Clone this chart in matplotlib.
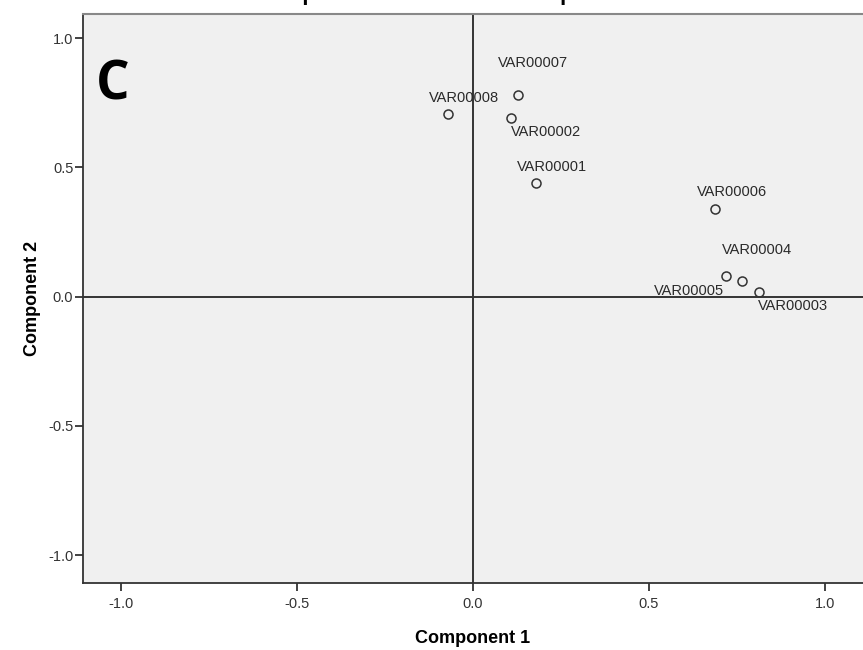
import numpy as np
import matplotlib
matplotlib.use("Agg")
import matplotlib.pyplot as plt

plt.rcParams['font.family'] = ['Liberation Sans', 'DejaVu Sans']

# component loadings
var_names = ['VAR00001', 'VAR00002', 'VAR00003', 'VAR00004',
             'VAR00005', 'VAR00006', 'VAR00007', 'VAR00008']
comp1 = [0.179, 0.108, 0.813, 0.764, 0.719, 0.688, 0.128, -0.071]
comp2 = [0.441, 0.692, 0.019, 0.062, 0.081, 0.340, 0.778, 0.707]
ticks = [-1.0, -0.5, 0.0, 0.5, 1.0]
tick_labels = ['-1.0', '-0.5', '0.0', '0.5', '1.0']

# label placement (pixels from the point)
offsets = {'VAR00001': (16, 16), 'VAR00002': (35, -14), 'VAR00003': (34, -14),
           'VAR00004': (15, 31), 'VAR00005': (-37, -15), 'VAR00006': (17, 17),
           'VAR00007': (15, 32), 'VAR00008': (16, 16)}

fig = plt.figure(figsize=(8.63, 6.5), dpi=100)
ax = fig.add_axes([83/863, 1-583/650, 780/863, 569/650])
ax.set_facecolor('#f0f0f0')

ax.axhline(0, color='#333333', lw=1.4, zorder=1)
ax.axvline(0, color='#333333', lw=1.4, zorder=1)

ax.plot(comp1, comp2, 'o', ms=6.5, mfc='none', mec='#333333', mew=1.1, zorder=3)
for n, x, y in zip(var_names, comp1, comp2):
    dx, dy = offsets[n]
    ax.annotate(n, (x, y), xytext=(dx, dy), textcoords='offset pixels',
                ha='center', va='center', fontsize=10.5, color='#2a2a2a')

ax.set_xlim(-1.108, 1.108)
ax.set_ylim(-1.108, 1.093)
ax.set_xticks(ticks)
ax.set_xticklabels(tick_labels)
ax.set_yticks(ticks)
ax.set_yticklabels(tick_labels)
ax.tick_params(length=6, width=1.3, color='#333333', labelsize=10.5,
               labelcolor='#333333', pad=4)
ax.tick_params(axis='y', pad=1)

for s in ['left', 'bottom']:
    ax.spines[s].set_color('#333333')
    ax.spines[s].set_linewidth(1.3)
ax.spines['top'].set_color('#888888')
ax.spines['top'].set_linewidth(1.5)
ax.spines['right'].set_visible(False)

ax.set_xlabel('Component 1', fontsize=13, fontweight='bold', labelpad=14)
ax.set_ylabel('Component 2', fontsize=13, fontweight='bold', labelpad=5)

# title sits just above the top edge; only its descenders show
fig.text(0.5, 1.0, 'Component Plot in Rotated Space', ha='center', va='baseline',
         fontsize=16, fontweight='bold')

ax.text(0.0385, 0.849, 'C', transform=ax.transAxes,
        fontsize=38, fontweight='bold', ha='center', va='baseline',
        family=['Open Sans', 'DejaVu Sans'])

fig.savefig('out.png', dpi=100)
